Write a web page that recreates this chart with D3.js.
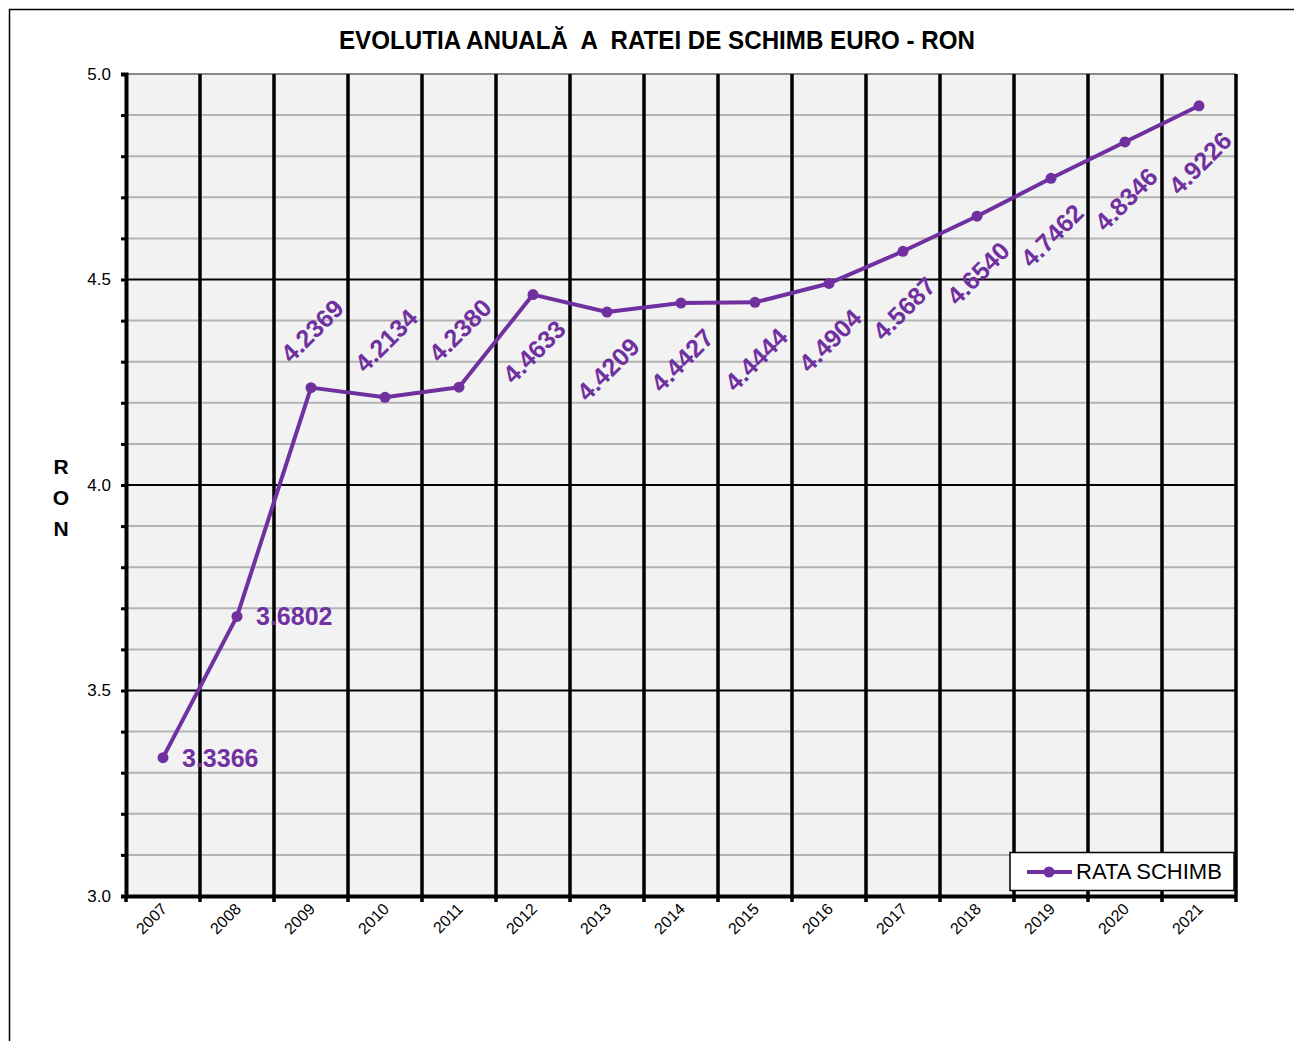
<!DOCTYPE html>
<html><head><meta charset="utf-8">
<script src="https://cdn.jsdelivr.net/npm/d3@7"></script>
<style>body{margin:0;background:#fff;}svg{display:block;}</style>
</head><body>
<script>
const years = ["2007","2008","2009","2010","2011","2012","2013","2014","2015","2016","2017","2018","2019","2020","2021"];
const rates = [3.3366,3.6802,4.2369,4.2134,4.2380,4.4633,4.4209,4.4427,4.4444,4.4904,4.5687,4.6540,4.7462,4.8346,4.9226];
const labels = ["3.3366","3.6802","4.2369","4.2134","4.2380","4.4633","4.4209","4.4427","4.4444","4.4904","4.5687","4.6540","4.7462","4.8346","4.9226"];
const yTicks = [3.0,3.5,4.0,4.5,5.0];
const title = "EVOLUTIA ANUALĂ  A  RATEI DE SCHIMB EURO - RON";
const seriesName = "RATA SCHIMB";
const yTitle = ["R","O","N"];

const W=1294,H=1041;
const L=126,R=1236,T=74,B=896;
const purple="#7030A0";
const svg=d3.select("body").append("svg").attr("width",W).attr("height",H);
svg.append("rect").attr("x",9.5).attr("y",9.5).attr("width",W+20).attr("height",H+20).attr("fill","#fff").attr("stroke","#000").attr("stroke-width",1.5);

const x=d3.scaleBand().domain(years).range([L,R]).padding(0);
const y=d3.scaleLinear().domain([3,5]).range([B,T]);
const font="'Liberation Sans', Arial, sans-serif";

svg.append("rect").attr("x",L).attr("y",T).attr("width",R-L).attr("height",B-T).attr("fill","#F2F2F2");

// minor grid
const minor=d3.range(31,50).map(v=>v/10).filter(v=>Math.abs(v*2-Math.round(v*2))>1e-6);
svg.append("g").selectAll("line").data(minor).join("line")
 .attr("x1",L).attr("x2",R).attr("y1",d=>y(d)).attr("y2",d=>y(d))
 .attr("stroke","#B3B3B3").attr("stroke-width",2);
// major grid
svg.append("g").selectAll("line").data(yTicks.filter(v=>v>3&&v<5)).join("line")
 .attr("x1",L).attr("x2",R).attr("y1",d=>y(d)).attr("y2",d=>y(d))
 .attr("stroke","#000").attr("stroke-width",2);
svg.append("line").attr("x1",L).attr("x2",R).attr("y1",y(5)).attr("y2",y(5)).attr("stroke","#888").attr("stroke-width",2);
// vertical grid
const bounds=years.map(d=>x(d)).concat([R]);
svg.append("g").selectAll("line").data(bounds.slice(1)).join("line")
 .attr("x1",d=>d).attr("x2",d=>d).attr("y1",T).attr("y2",B)
 .attr("stroke","#000").attr("stroke-width",3.5);

// y axis
const yAxis=d3.axisLeft(y).tickValues(d3.range(30,51).map(v=>v/10)).tickSize(5)
 .tickFormat(d=>yTicks.some(t=>Math.abs(t-d)<1e-6)?d3.format(".1f")(d):"");
const gy=svg.append("g").attr("transform",`translate(${L},0)`).call(yAxis);
gy.attr("font-size",null).attr("font-family",null);
gy.select(".domain").attr("stroke","#000").attr("stroke-width",4);
gy.selectAll(".tick line").attr("stroke","#000").attr("stroke-width",3);
gy.selectAll(".tick text").style("font-family",font).style("font-size","17px").attr("fill","#000").attr("x",-15);

// x axis
const gx=svg.append("g").attr("transform",`translate(0,${B})`).call(d3.axisBottom(x).tickSize(0).tickSizeOuter(0));
gx.attr("font-size",null).attr("font-family",null);
gx.select(".domain").attr("stroke","#000").attr("stroke-width",4);
gx.selectAll(".tick text").style("font-family",font).style("font-size","16px").attr("fill","#000")
 .attr("text-anchor","end").attr("dy",0).attr("y",0)
 .attr("transform","translate(5,14) rotate(-45)");
svg.append("g").selectAll("line").data(bounds).join("line")
 .attr("x1",d=>d).attr("x2",d=>d).attr("y1",B).attr("y2",B+6)
 .attr("stroke","#000").attr("stroke-width",3.5);

// series
const cx=d=>x(d)+x.bandwidth()/2;
const line=d3.line().x((d,i)=>cx(years[i])).y(d=>y(d));
svg.append("path").datum(rates).attr("d",line).attr("fill","none").attr("stroke",purple).attr("stroke-width",4).attr("stroke-linejoin","round");
svg.append("g").selectAll("circle").data(rates).join("circle")
 .attr("cx",(d,i)=>cx(years[i])).attr("cy",d=>y(d)).attr("r",5.5).attr("fill",purple);

// data labels
const lg=svg.append("g").style("font-family",font).attr("font-weight","bold").style("font-size","25px").attr("fill",purple);
rates.forEach((v,i)=>{
  const px=cx(years[i]), py=y(v);
  if(i<2){
    lg.append("text").attr("x",px+19).attr("y",py).attr("dy","0.36em").text(labels[i]);
  } else {
    const off = i<=4 ? -57 : 57;
    lg.append("text").attr("transform",`translate(${px+1},${py+off}) rotate(-45)`)
      .attr("text-anchor","middle").attr("dy","0.36em").text(labels[i]);
  }
});

// title
svg.append("text").attr("x",657).attr("y",49).attr("text-anchor","middle")
 .style("font-family","'Liberation Sans Narrow', 'Liberation Sans', Arial, sans-serif").attr("font-weight","bold").style("font-size","25px")
 .style("white-space","pre").attr("xml:space","preserve")
 .attr("textLength",636).attr("lengthAdjust","spacingAndGlyphs").text(title);

// y title
svg.append("g").selectAll("text").data(yTitle).join("text")
 .attr("x",61).attr("y",(d,i)=>474+i*31).attr("text-anchor","middle")
 .style("font-family",font).attr("font-weight","bold").style("font-size","21px").text(d=>d);

// legend
const lgd=svg.append("g");
lgd.append("rect").attr("x",1010).attr("y",852.5).attr("width",224).attr("height",38).attr("fill","#fff").attr("stroke","#000").attr("stroke-width",1.5);
lgd.append("line").attr("x1",1027).attr("x2",1072).attr("y1",872).attr("y2",872).attr("stroke",purple).attr("stroke-width",4);
lgd.append("circle").attr("cx",1049).attr("cy",872).attr("r",5.5).attr("fill",purple);
lgd.append("text").attr("x",1076).attr("y",879).style("font-family",font).style("font-size","22px").attr("fill","#000").text(seriesName);
</script>
</body></html>
